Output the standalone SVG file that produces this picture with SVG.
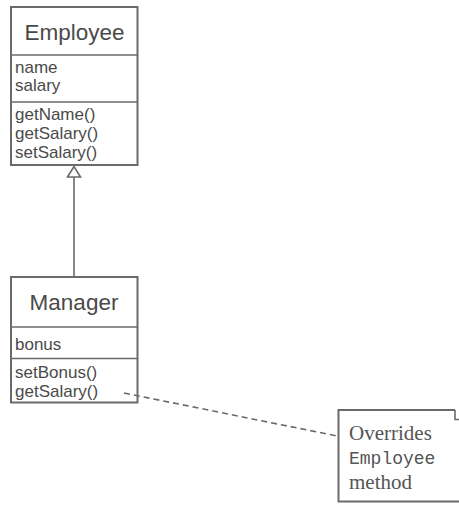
<svg xmlns="http://www.w3.org/2000/svg" width="459" height="505" viewBox="0 0 459 505">
<style>
.box{fill:#fff;stroke:#6a6a6a;stroke-width:2}
.div{stroke:#6a6a6a;stroke-width:1.5}
.title{font-family:"Liberation Sans",Arial,sans-serif;font-size:22.5px;fill:#4a4a4a;text-anchor:middle}
.mem{font-family:"Liberation Sans",Arial,sans-serif;font-size:17px;fill:#4a4a4a}
.serif{font-family:"Liberation Serif","Times New Roman",serif;font-size:21px;fill:#555}
.mono{font-family:"Liberation Mono","Courier New",monospace;font-size:18px;fill:#555}
.conn{stroke:#6a6a6a;stroke-width:1.6;fill:none}
</style>
<rect width="459" height="505" fill="#fff"/>
<g id="employee">
<rect class="box" x="11" y="7" width="126.5" height="158"/>
<line class="div" x1="11" y1="55" x2="137.5" y2="55"/>
<line class="div" x1="11" y1="102" x2="137.5" y2="102"/>
<text class="title" x="74.5" y="40">Employee</text>
<text class="mem" x="15" y="73">name</text>
<text class="mem" x="15" y="91">salary</text>
<text class="mem" x="15" y="119.5">getName()</text>
<text class="mem" x="15" y="138.5">getSalary()</text>
<text class="mem" x="15" y="157.5">setSalary()</text>
</g>
<g id="manager">
<rect class="box" x="11" y="277" width="126.5" height="125.5"/>
<line class="div" x1="11" y1="327" x2="137.5" y2="327"/>
<line class="div" x1="11" y1="358.5" x2="137.5" y2="358.5"/>
<text class="title" x="74" y="310">Manager</text>
<text class="mem" x="15" y="349.5">bonus</text>
<text class="mem" x="15" y="377.5">setBonus()</text>
<text class="mem" x="15" y="396.5">getSalary()</text>
</g>
<g id="note">
<path d="M470,501.5 L338.5,501.5 L338.5,410 L455,410" fill="#fff" stroke="#6a6a6a" stroke-width="2"/>
<path d="M455,410 L455,419.5 L462,419.5" fill="none" stroke="#6a6a6a" stroke-width="1.6"/>
<text class="serif" x="349" y="440">Overrides</text>
<text class="mono" x="349" y="464">Employee</text>
<text class="serif" x="349" y="489">method</text>
</g>
<g id="connectors">
<line class="conn" x1="74" y1="177" x2="74" y2="277"/>
<polygon points="74,166.5 67.5,177 80.5,177" fill="#fff" stroke="#6a6a6a" stroke-width="1.6"/>
<line class="conn" x1="124" y1="393" x2="337" y2="436" stroke-dasharray="6,4"/>
</g>
</svg>
